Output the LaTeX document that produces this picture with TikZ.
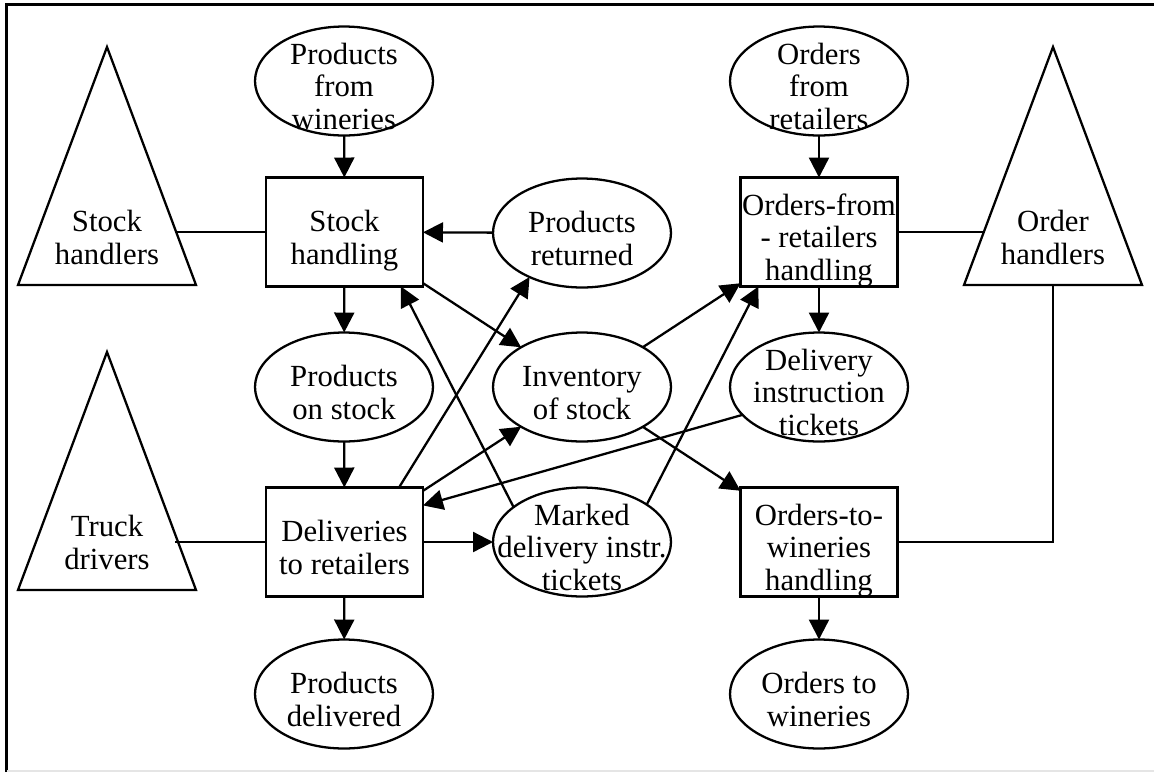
\documentclass[tikz,border=0pt]{standalone}
\usepackage{fontspec}
\setmainfont{Liberation Serif}
\usetikzlibrary{shapes.geometric, arrows.meta}
\newcommand{\lowtext}[1]{\raisebox{-0.19cm}[\height][\depth]{\begin{tabular}{@{}c@{}}#1\end{tabular}}}

\begin{document}
\begin{tikzpicture}[x=0.02cm, y=-0.02cm,
    every node/.style={font=\fontsize{17.5pt}{18.3pt}\selectfont, inner sep=-0.6cm, outer sep=0pt},
    thing/.style={ellipse, draw, line width=1.3pt, minimum width=3.56cm, minimum height=2.18cm},
    activity/.style={rectangle, draw, line width=1.3pt, minimum width=3.14cm, minimum height=2.18cm},
    role/.style={isosceles triangle, isosceles triangle stretches, shape border rotate=90, draw, line width=1.3pt,
                 minimum width=3.56cm, minimum height=4.76cm, anchor=apex, inner sep=0pt},
    roletext/.style={minimum width=2.72cm},
    flow/.style={line width=1.3pt, -{Triangle[length=0.4cm, width=0.4cm]}},
    link/.style={line width=1.3pt}]
    \useasboundingbox (0,0) rectangle (1154,772);
    % frame
    \draw[line width=1.6pt] (6.5,772) -- (6.5,4.5) -- (1154,4.5);
    \draw[black!10, line width=0.6pt] (6.5,771) -- (1154,771);

    % roles
    \node[role] (shr) at (107,47) {};
    \node[roletext] (shrt) at (107,232) {\lowtext{Stock\\handlers}};
    \node[role] (tdr) at (107,352) {};
    \node[roletext] (tdrt) at (107,537) {\lowtext{Truck\\drivers}};
    \node[role] (ohr) at (1053,47) {};
    \node[roletext] (ohrt) at (1053,232) {\lowtext{Order\\handlers}};

    % things and activities
    \node[thing] (pfw) at (344,81) {\lowtext{Products\\from\\wineries}};
    \node[activity] (sh) at (344.5,232) {\lowtext{Stock\\handling}};
    \node[thing] (pr) at (582,233) {\lowtext{Products\\returned}};
    \node[thing] (ofr) at (819,81) {\lowtext{Orders\\from\\retailers}};
    \node[activity] (ofrh) at (819,232) {\lowtext{Orders-from\\- retailers\\handling}};
    \node[thing] (pos) at (344,387) {\lowtext{Products\\on stock}};
    \node[thing] (inv) at (582,387) {\lowtext{Inventory\\of stock}};
    \node[thing] (dit) at (819,387) {\lowtext{Delivery\\instruction\\tickets}};
    \node[activity] (del) at (344.5,542) {\lowtext{Deliveries\\to retailers}};
    \node[thing] (mdit) at (582,542) {\lowtext{Marked\\delivery instr.\\tickets}};
    \node[activity] (otwh) at (819,542) {\lowtext{Orders-to-\\wineries\\handling}};
    \node[thing] (pd) at (344,694) {\lowtext{Products\\delivered}};
    \node[thing] (otw) at (819,694) {\lowtext{Orders to\\wineries}};

    % flows
    \draw[flow] (pfw) -- (sh);
    \draw[flow] (pr) -- (sh);
    \draw[flow] (sh) -- (pos);
    \draw[flow] (pos) -- (del);
    \draw[flow] (del) -- (pd);
    \draw[flow] (del) -- (mdit);
    \draw[flow] (sh) -- (inv);
    \draw[flow] (del) -- (inv);
    \draw[flow] (del.45) -- (pr.220);
    \draw[flow] (mdit.153) -- (sh.316);
    \draw[flow] (inv) -- (ofrh);
    \draw[flow] (mdit.30) -- (ofrh.222);
    \draw[flow] (inv) -- (otwh);
    \draw[flow] (dit.200) -- (del.25);
    \draw[flow] (ofr) -- (ofrh);
    \draw[flow] (ofrh) -- (dit);
    \draw[flow] (otwh) -- (otw);

    % who does what
    \draw[link] (sh.west) -- (sh.west -| shrt.east);
    \draw[link] (del.west) -- (del.west -| tdrt.east);
    \draw[link] (ofrh.east) -- (ofrh.east -| ohrt.west);
    \draw[link] (otwh.east) -| (ohr.lower side);
\end{tikzpicture}
\end{document}
